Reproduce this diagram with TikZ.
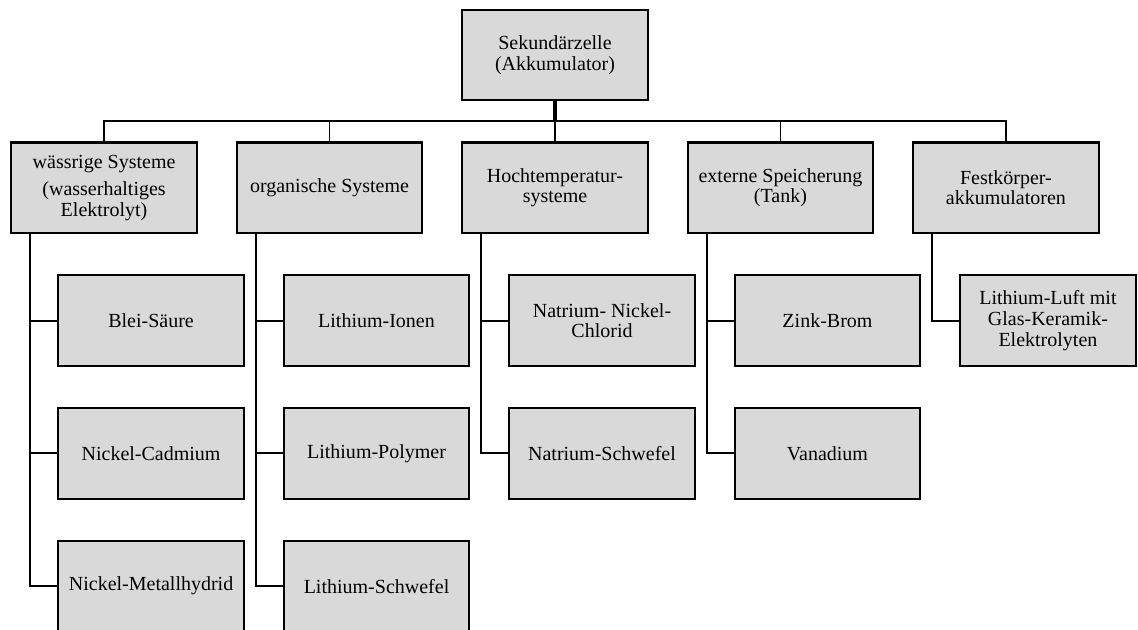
\documentclass[tikz,border=0pt]{standalone}
\usepackage{fontspec}
\setmainfont{Liberation Serif}
\usetikzlibrary{positioning}

\begin{document}
\begin{tikzpicture}[
x=0.75pt,
y=-0.75pt,
node distance=30pt and 28.5pt,
box/.style={
rectangle,
draw,
line width=1.6pt,
fill=gray!30,
minimum width=139pt,
minimum height=68pt,
inner sep=2pt,
align=center,
font=\fontsize{15pt}{15.5pt}\selectfont
},
link/.style={
line width=1.4pt
}
]

\useasboundingbox (0,0) rectangle (1138,630);

% root
\node[box] (root) at (555,55)
{Sekundärzelle\\(Akkumulator)};

% first level
\node[box, below=of root] (hoch)
{Hochtemperatur-\\systeme};
\node[box, left=of hoch] (orga)
{organische Systeme};
\node[box, left=of orga] (wass)
{wässrige Systeme\\[5pt](wasserhaltiges\\Elektrolyt)};
\node[box, right=of hoch] (tank)
{externe Speicherung\\(Tank)};
\node[box, right=of tank] (fest)
{Festkörper-\\akkumulatoren};

% second level
\node[box, below=of wass, xshift=35.25pt] (blei) {Blei-Säure};
\node[box, below=of blei] (nicd) {Nickel-Cadmium};
\node[box, below=of nicd] (nimh) {Nickel-Metallhydrid};

\node[box, below=of orga, xshift=35.25pt] (liion) {Lithium-Ionen};
\node[box, below=of liion] (lipo) {Lithium-Polymer};
\node[box, below=of lipo] (lis) {Lithium-Schwefel};

\node[box, below=of hoch, xshift=35.25pt] (nanicl) {Natrium- Nickel-\\Chlorid};
\node[box, below=of nanicl] (nas) {Natrium-Schwefel};

\node[box, below=of tank, xshift=35.25pt] (znbr) {Zink-Brom};
\node[box, below=of znbr] (vana) {Vanadium};

\node[box, below=of fest, xshift=31.5pt, minimum width=132pt] (liluft)
{Lithium-Luft mit\\Glas-Keramik-\\Elektrolyten};

% connectors
\draw[link, line width=2.6pt] (root.south) -- ++(0,20);
\foreach \t in {wass, orga, hoch, tank, fest}
\draw[link] (root.south) -- ++(0,20) -| (\t.north);

\foreach \p/\c in {wass/blei, wass/nicd, wass/nimh,
orga/liion, orga/lipo, orga/lis,
hoch/nanicl, hoch/nas,
tank/znbr, tank/vana,
fest/liluft}
\draw[link] ([xshift=15pt]\p.south west) |- (\c.west);

\end{tikzpicture}
\end{document}
